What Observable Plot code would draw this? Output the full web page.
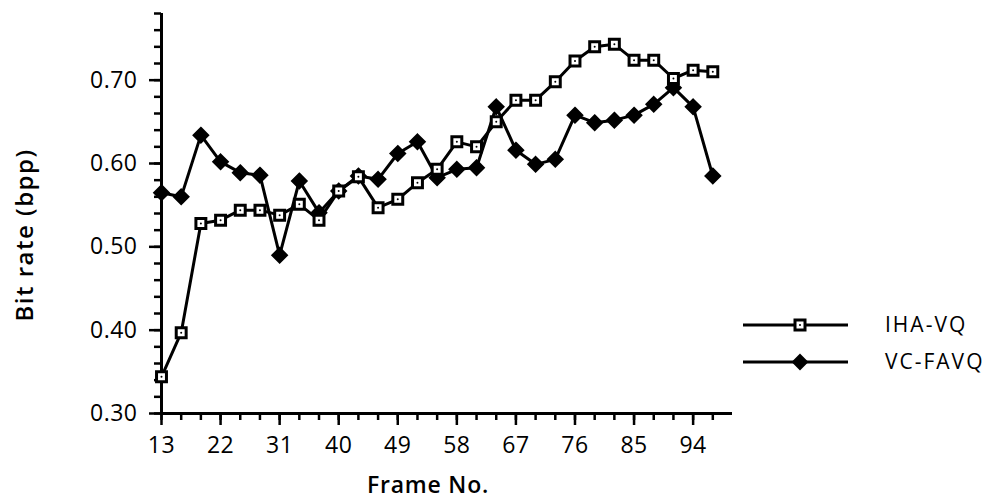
<!DOCTYPE html>
<html>
<head>
<meta charset="utf-8">
<script src="https://cdn.jsdelivr.net/npm/d3@7"></script>
<script src="https://cdn.jsdelivr.net/npm/@observablehq/plot@0.6"></script>
<style>
  html, body { margin: 0; padding: 0; background: #fff; }
  #chart { position: relative; width: 997px; height: 499px; }
</style>
</head>
<body>
<div id="chart"></div>
<script>
const frames = [13,16,19,22,25,28,31,34,37,40,43,46,49,52,55,58,61,64,67,70,73,76,79,82,85,88,91,94,97];
const ihaVQ  = [0.344,0.397,0.528,0.532,0.544,0.544,0.538,0.551,0.532,0.567,0.584,0.547,0.557,0.577,0.593,0.626,0.620,0.650,0.676,0.676,0.698,0.723,0.740,0.743,0.724,0.724,0.702,0.712,0.710];
const vcFAVQ = [0.565,0.560,0.634,0.602,0.589,0.586,0.490,0.579,0.541,0.567,0.585,0.581,0.612,0.626,0.583,0.593,0.595,0.668,0.616,0.599,0.605,0.658,0.649,0.652,0.658,0.671,0.691,0.668,0.585];
const seriesNames = ["IHA-VQ", "VC-FAVQ"];
const xMajorTicks = [13,22,31,40,49,58,67,76,85,94];
const xMinorTicks = [13,16,19,22,25,28,31,34,37,40,43,46,49,52,55,58,61,64,67,70,73,76,79,82,85,88,91,94,97];
const yMajorTicks = [0.30,0.40,0.50,0.60,0.70];
const yMinorTicks = [0.30,0.32,0.34,0.36,0.38,0.40,0.42,0.44,0.46,0.48,0.50,0.52,0.54,0.56,0.58,0.60,0.62,0.64,0.66,0.68,0.70,0.72,0.74,0.76,0.78];
const xDomain = [13, 100];
const yDomain = [0.30, 0.78];
const xTitle = "Frame No.";
const yTitle = "Bit rate (bpp)";

const iha = frames.map((f, i) => ({frame: f, rate: ihaVQ[i]}));
const vc = frames.map((f, i) => ({frame: f, rate: vcFAVQ[i]}));

const FONT = "'Open Sans', 'Noto Sans', sans-serif";

const chart = Plot.plot({
  width: 997,
  height: 499,
  marginLeft: 161,
  marginRight: 265,
  marginTop: 13,
  marginBottom: 86,
  style: {fontFamily: FONT, fontSize: "23px", fontWeight: 500, color: "#000", background: "#fff", overflow: "visible", letterSpacing: "0.5px"},
  x: {domain: xDomain, axis: null},
  y: {domain: yDomain, axis: null},
  marks: [
    Plot.axisY(yMinorTicks, {tickSize: 7, text: null, label: null, strokeWidth: 2.5}),
    Plot.axisY(yMajorTicks, {tickSize: 12, tickPadding: 12, label: null, strokeWidth: 2.5, tickFormat: d => d.toFixed(2), fontSize: 23}),
    Plot.axisX(xMinorTicks, {tickSize: 7, text: null, label: null, strokeWidth: 2.5}),
    Plot.axisX(xMajorTicks, {tickSize: 12, tickPadding: 11, label: null, strokeWidth: 2.5, tickFormat: d => String(d), fontSize: 23}),
    Plot.ruleX([xDomain[0]], {y1: yDomain[0], y2: yDomain[1], stroke: "#000", strokeWidth: 3}),
    Plot.ruleY([yDomain[0]], {x1: xDomain[0], x2: xDomain[1], stroke: "#000", strokeWidth: 3}),
    Plot.line(vc, {x: "frame", y: "rate", stroke: "#000", strokeWidth: 3}),
    Plot.line(iha, {x: "frame", y: "rate", stroke: "#000", strokeWidth: 3}),
    Plot.dot(vc, {x: "frame", y: "rate", symbol: "diamond2", r: 6.3, fill: "#000", stroke: "#000", strokeWidth: 2.5}),
    Plot.dot(iha, {x: "frame", y: "rate", symbol: "square", r: 5.6, fill: "#fff", stroke: "#000", strokeWidth: 3}),
    Plot.dot(iha, {x: "frame", y: "rate", r: 1, fill: "#000"})
  ]
});

document.getElementById("chart").appendChild(chart);

const svg = d3.select(chart);

// Axis titles
const titles = svg.append("g").attr("font-family", FONT).attr("font-weight", 600).attr("fill", "#000").attr("text-anchor", "middle");
titles.append("text").attr("x", 428).attr("y", 493).attr("font-size", 23).attr("letter-spacing", "0.8px").text(xTitle);
titles.append("text").attr("transform", "translate(33,235) rotate(-90)").attr("font-size", 24).attr("letter-spacing", "1.5px").text(yTitle);

// Legend
const lg = svg.append("g").attr("font-family", FONT).attr("font-size", 21).attr("font-weight", 500).attr("letter-spacing", "2px").attr("fill", "#000").attr("text-anchor", "start");
const rows = [{name: seriesNames[0], y: 325, sym: "square"}, {name: seriesNames[1], y: 362, sym: "diamond"}];
rows.forEach(r => {
  lg.append("line").attr("x1", 743).attr("x2", 848).attr("y1", r.y).attr("y2", r.y)
    .attr("stroke", "#000").attr("stroke-width", 3);
  if (r.sym === "square") {
    lg.append("rect").attr("x", 795).attr("y", r.y - 5).attr("width", 10).attr("height", 10)
      .attr("fill", "#fff").attr("stroke", "#000").attr("stroke-width", 3);
    lg.append("circle").attr("cx", 800).attr("cy", r.y).attr("r", 1).attr("fill", "#000");
  } else {
    lg.append("path").attr("d", `M800,${r.y - 7}L807,${r.y}L800,${r.y + 7}L793,${r.y}Z`)
      .attr("fill", "#000").attr("stroke", "#000").attr("stroke-width", 2);
  }
  lg.append("text").attr("x", 885).attr("y", r.y + 7).text(r.name);
});
</script>
</body>
</html>
